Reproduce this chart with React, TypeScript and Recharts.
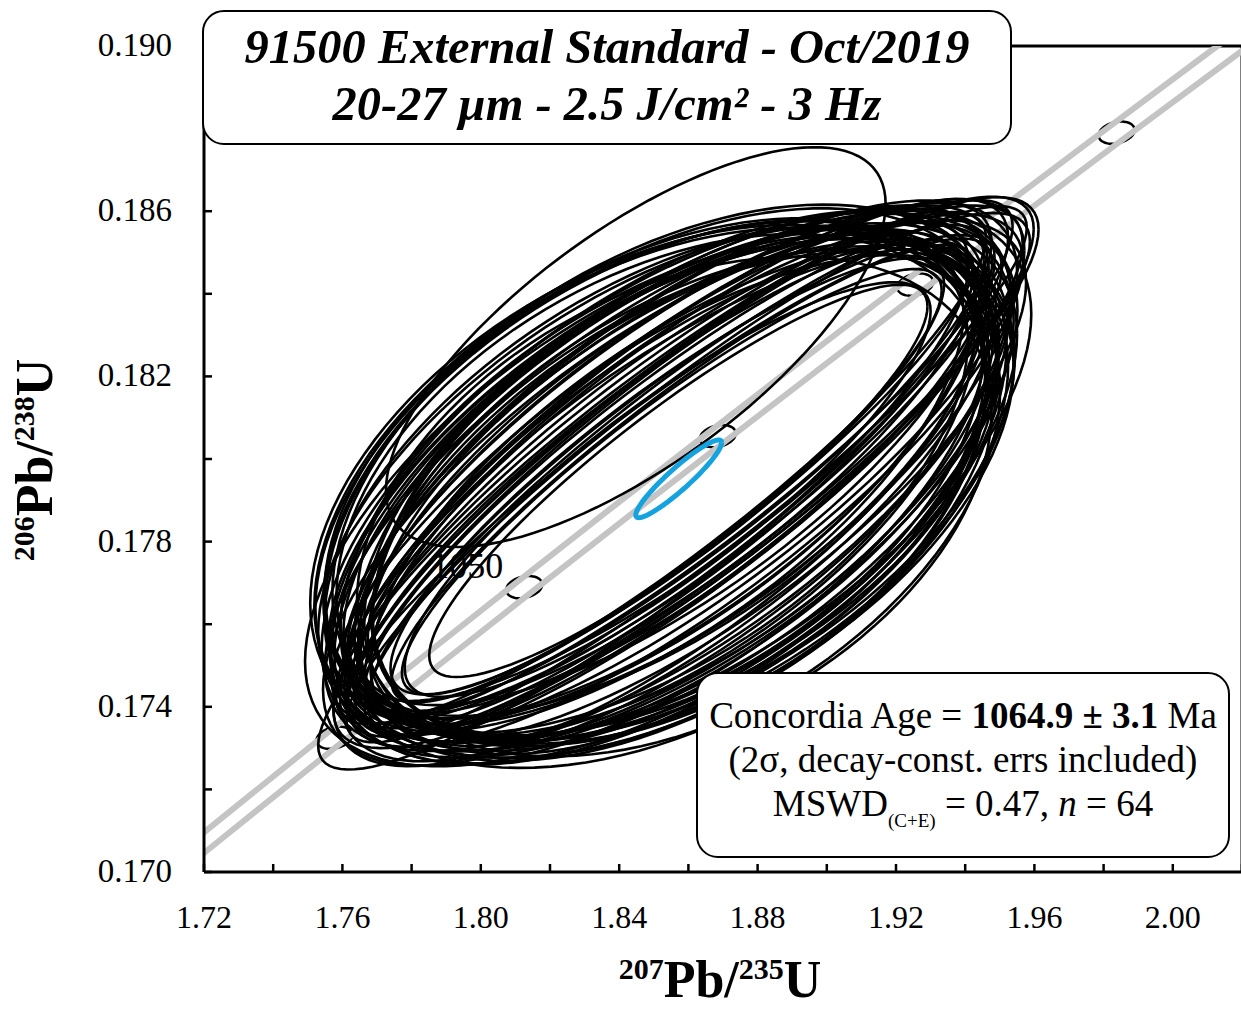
import React from "react";
import { ComposedChart, XAxis, YAxis, Line, ReferenceLine } from "recharts";

// decay constants (1/yr), 2s band on lambda235
const LAMBDA_238 = 1.55125e-10;
const LAMBDA_235 = 9.8485e-10;
const LAMBDA_235_ERR = 1.33e-12;

// spot ratios: centres, 2s abs errors and error correlation
const x207 = [
  1.8552, 1.8503, 1.8589, 1.8571, 1.8576, 1.851, 1.8533, 1.8528,
  1.8614, 1.8541, 1.8607, 1.8485, 1.8577, 1.8533, 1.8521, 1.854,
  1.8595, 1.8478, 1.8602, 1.8539, 1.8559, 1.8576, 1.854, 1.8551,
  1.8559, 1.8564, 1.8564, 1.8582, 1.8509, 1.862, 1.8478, 1.8589,
  1.859, 1.8545, 1.849, 1.8613, 1.8504, 1.8577, 1.8521, 1.8551,
  1.8522, 1.857, 1.8521, 1.8576, 1.854, 1.8614, 1.854, 1.8626,
  1.8528, 1.8571, 1.8509, 1.8588, 1.8478, 1.8521, 1.8602, 1.8522,
  1.8559, 1.8563, 1.8497, 1.8546, 1.8448, 1.8479, 1.8625, 1.8571,
];
const y206 = [
  0.17945, 0.17945, 0.17948, 0.17904, 0.17993, 0.17906, 0.17986, 0.17939,
  0.17932, 0.17894, 0.17981, 0.17922, 0.17929, 0.17997, 0.17967, 0.17915,
  0.17963, 0.1795, 0.17913, 0.17958, 0.17885, 0.18004, 0.17937, 0.18009,
  0.17906, 0.17974, 0.17943, 0.17965, 0.17927, 0.17947, 0.17939, 0.17937,
  0.17895, 0.17973, 0.17968, 0.17964, 0.17891, 0.17919, 0.17957, 0.17998,
  0.17925, 0.17957, 0.17989, 0.17983, 0.17926, 0.17922, 0.17947, 0.17962,
  0.17897, 0.17947, 0.17949, 0.1798, 0.1796, 0.17978, 0.17924, 0.17882,
  0.17917, 0.18017, 0.17951, 0.17962, 0.18271, 0.17907, 0.17983, 0.17893,
];
const sx207 = [
  0.078, 0.0956, 0.0978, 0.0926, 0.0961, 0.0991, 0.093, 0.0895,
  0.093, 0.0948, 0.0991, 0.0978, 0.0904, 0.0921, 0.0969, 0.0996,
  0.0983, 0.093, 0.0921, 0.08, 0.0917, 0.0948, 0.1, 0.0917,
  0.0965, 0.0899, 0.0987, 0.084, 0.0987, 0.0956, 0.0948, 0.0917,
  0.0908, 0.0974, 0.0921, 0.0978, 0.0974, 0.0891, 0.0908, 0.0934,
  0.0939, 0.0996, 0.0926, 0.0974, 0.076, 0.0926, 0.0991, 0.0961,
  0.0965, 0.072, 0.0961, 0.0983, 0.0917, 0.0939, 0.0939, 0.0948,
  0.0991, 0.0913, 0.0952, 0.0895, 0.0722, 0.0987, 0.0987, 0.0921,
];
const sy206 = [
  0.00515, 0.00631, 0.00645, 0.00611, 0.00634, 0.00654, 0.00614, 0.00591,
  0.00614, 0.00626, 0.00654, 0.00645, 0.00597, 0.00608, 0.0064, 0.00657,
  0.00649, 0.00614, 0.00608, 0.00528, 0.00605, 0.00626, 0.0066, 0.00605,
  0.00637, 0.00593, 0.00651, 0.00554, 0.00651, 0.00631, 0.00626, 0.00605,
  0.00599, 0.00643, 0.00608, 0.00645, 0.00643, 0.00588, 0.00599, 0.00616,
  0.0062, 0.00657, 0.00611, 0.00643, 0.00502, 0.00611, 0.00654, 0.00634,
  0.00637, 0.00475, 0.00634, 0.00649, 0.00605, 0.0062, 0.0062, 0.00626,
  0.00654, 0.00603, 0.00628, 0.00591, 0.00484, 0.00651, 0.00651, 0.00608,
];
const rhos = [
  0.9, 0.45, 0.82, 0.58, 0.9, 0.4, 0.66, 0.86,
  0.52, 0.75, 0.88, 0.42, 0.62, 0.8, 0.48, 0.72,
  0.92, 0.55, 0.68, 0.88, 0.38, 0.85, 0.6, 0.74,
  0.5, 0.89, 0.64, 0.91, 0.44, 0.76, 0.57, 0.87,
  0.66, 0.46, 0.83, 0.6, 0.91, 0.53, 0.71, 0.79,
  0.41, 0.86, 0.63, 0.73, 0.86, 0.49, 0.69, 0.89,
  0.56, 0.89, 0.43, 0.81, 0.65, 0.9, 0.51, 0.77,
  0.59, 0.84, 0.47, 0.72, 0.716, 0.61, 0.88, 0.54,
];

// concordia age ellipse (blue)
const concX = 1.8572;
const concY = 0.17952;
const concSx = 0.0124;
const concSy = 0.00094;
const concRho = 0.93;

// concordia curve ages (Ma) and tick markers
const bandAges = [960, 980, 1000, 1010, 1020, 1030, 1040, 1050, 1060, 1070, 1080, 1090, 1100, 1110, 1120, 1130, 1140, 1160];
const markerAges = [1030, 1050, 1070, 1090, 1110];
const labelAges = [1050];
const markerSx = 0.0052;
const markerSy = 0.00027;
const markerRho = 0.25;

const xTicks = [1.72, 1.74, 1.76, 1.78, 1.8, 1.82, 1.84, 1.86, 1.88, 1.9, 1.92, 1.94, 1.96, 1.98, 2.0, 2.02];
const yTicks = [0.17, 0.172, 0.174, 0.176, 0.178, 0.18, 0.182, 0.184, 0.186, 0.188, 0.19];

const SERIF = '"Liberation Serif", "Times New Roman", serif';

function ellipse(cx: number, cy: number, sx: number, sy: number, rho: number, n = 120) {
  const k = Math.sqrt(1 - rho * rho);
  const pts = [];
  for (let i = 0; i <= n; i++) {
    const t = (2 * Math.PI * i) / n;
    pts.push({ x: cx + sx * Math.cos(t), y: cy + sy * (rho * Math.cos(t) + k * Math.sin(t)) });
  }
  return pts;
}

const concPoint = (age: number, l235 = LAMBDA_235) => ({
  x: Math.exp(l235 * age * 1e6) - 1,
  y: Math.exp(LAMBDA_238 * age * 1e6) - 1,
});

const bandLow = bandAges.map((a) => concPoint(a, LAMBDA_235 - LAMBDA_235_ERR));
const bandHigh = bandAges.map((a) => concPoint(a, LAMBDA_235 + LAMBDA_235_ERR));
const markers = markerAges.map((a) => {
  const p = concPoint(a);
  return ellipse(p.x, p.y, markerSx, markerSy, markerRho, 60);
});
const ageLabels = labelAges.map((a) => ({ ...concPoint(a), age: a }));
const spots = x207.map((x, i) => ellipse(x, y206[i], sx207[i], sy206[i], rhos[i]));
const concEllipse = ellipse(concX, concY, concSx, concSy, concRho);

const XTick = (props: any) => {
  const { x, y, payload } = props;
  const v = payload.value;
  const major = Math.round(v * 100) % 4 === 0;
  return (
    <g>
      <line x1={x} x2={x} y1={y} y2={y - 8} stroke="#000" strokeWidth={2.5} />
      {major && (
        <text x={x} y={y + 56} textAnchor="middle" fontFamily={SERIF} fontSize={32} fill="#000">
          {v.toFixed(2)}
        </text>
      )}
    </g>
  );
};

const YTick = (props: any) => {
  const { x, y, payload } = props;
  const v = payload.value;
  const major = Math.round(v * 1000) % 4 === 2;
  return (
    <g>
      <line x1={x} x2={x + 8} y1={y} y2={y} stroke="#000" strokeWidth={2.5} />
      {major && (
        <text x={x - 32} y={y + 10} textAnchor="end" fontFamily={SERIF} fontSize={33} fill="#000">
          {v.toFixed(3)}
        </text>
      )}
    </g>
  );
};

const AgeLabel = (props: any) => {
  const { cx, cy, payload } = props;
  if (cx == null || cy == null) return <g />;
  return (
    <text x={cx - 21} y={cy - 9} textAnchor="end" fontFamily={SERIF} fontSize={36} fill="#000">
      {payload.age}
    </text>
  );
};

const box: React.CSSProperties = {
  position: "absolute",
  boxSizing: "border-box",
  border: "2.5px solid #000",
  borderRadius: 22,
  background: "#fff",
  fontFamily: SERIF,
  color: "#000",
  textAlign: "center",
};

const supStyle: React.CSSProperties = { fontSize: 30, verticalAlign: "18px", lineHeight: 0 };

export default function App() {
  return (
    <div style={{ position: "absolute", left: 0, top: 0, width: 1241, height: 1011, overflow: "hidden", background: "#fff" }}>
      <ComposedChart width={1250} height={1011} margin={{ top: 46, right: 8, bottom: 0, left: 0 }}>
        <XAxis
          type="number"
          dataKey="x"
          domain={[1.72, 2.02]}
          allowDataOverflow
          ticks={xTicks}
          interval={0}
          tick={<XTick />}
          tickLine={false}
          tickSize={0}
          tickMargin={0}
          height={139}
          axisLine={{ stroke: "#000", strokeWidth: 3 }}
        />
        <YAxis
          type="number"
          dataKey="y"
          domain={[0.17, 0.19]}
          allowDataOverflow
          ticks={yTicks}
          interval={0}
          tick={<YTick />}
          tickLine={false}
          tickSize={0}
          tickMargin={0}
          width={204}
          axisLine={{ stroke: "#000", strokeWidth: 3 }}
        />
        <ReferenceLine y={0.19} stroke="#000" strokeWidth={3} />
        <ReferenceLine x={2.02} stroke="#000" strokeWidth={3} />
        <Line
          data={ageLabels}
          dataKey="y"
          stroke="none"
          dot={<AgeLabel />}
          activeDot={false}
          isAnimationActive={false}
        />
        {markers.map((m, i) => (
          <Line
            key={"m" + i}
            data={m}
            dataKey="y"
            stroke="#000"
            strokeWidth={2.5}
            dot={false}
            activeDot={false}
            isAnimationActive={false}
          />
        ))}
        <Line data={bandLow} dataKey="y" stroke="#c4c4c4" strokeWidth={6} dot={false} activeDot={false} isAnimationActive={false} />
        <Line data={bandHigh} dataKey="y" stroke="#c4c4c4" strokeWidth={6} dot={false} activeDot={false} isAnimationActive={false} />
        {spots.map((s, i) => (
          <Line
            key={"s" + i}
            data={s}
            dataKey="y"
            stroke="#000"
            strokeWidth={2.6}
            dot={false}
            activeDot={false}
            isAnimationActive={false}
          />
        ))}
        <Line data={concEllipse} dataKey="y" stroke="#14a3de" strokeWidth={5} dot={false} activeDot={false} isAnimationActive={false} />
      </ComposedChart>

      <div style={{ ...box, left: 202, top: 10, width: 810, height: 135 }}>
        <div style={{ marginTop: 6, fontSize: 48.5, lineHeight: "57px", fontWeight: "bold", fontStyle: "italic" }}>
          91500 External Standard - Oct/2019
          <br />
          20-27 µm - 2.5 J/cm² - 3 Hz
        </div>
      </div>

      <div style={{ ...box, left: 696, top: 672, width: 534, height: 186 }}>
        <div style={{ marginTop: 20, fontSize: 37, lineHeight: "44px" }}>
          Concordia Age = <b>1064.9 ± 3.1</b> Ma
          <br />
          (2σ, decay-const. errs included)
          <br />
          MSWD<sub style={{ fontSize: 19, verticalAlign: "-11px", lineHeight: 0 }}>(C+E)</sub> = 0.47, <i>n</i> = 64
        </div>
      </div>

      <div
        style={{
          position: "absolute",
          left: 520,
          top: 954,
          width: 400,
          textAlign: "center",
          fontFamily: SERIF,
          fontWeight: "bold",
          fontSize: 52,
          lineHeight: "52px",
        }}
      >
        <sup style={supStyle}>207</sup>Pb/<sup style={supStyle}>235</sup>U
      </div>

      <div
        style={{
          position: "absolute",
          left: 35 - 200,
          top: 460 - 26,
          width: 400,
          textAlign: "center",
          fontFamily: SERIF,
          fontWeight: "bold",
          fontSize: 52,
          lineHeight: "52px",
          transform: "rotate(-90deg)",
        }}
      >
        <sup style={supStyle}>206</sup>Pb/<sup style={supStyle}>238</sup>U
      </div>
    </div>
  );
}
